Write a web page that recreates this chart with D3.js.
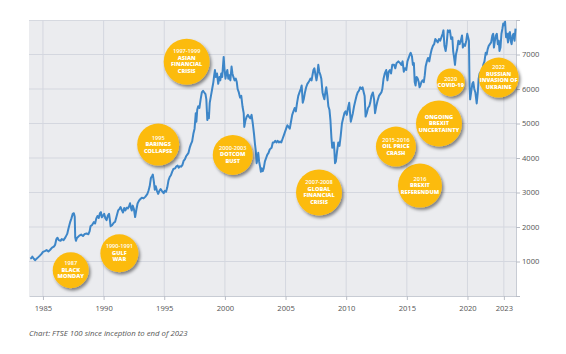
<!DOCTYPE html>
<html>
<head>
<meta charset="utf-8">
<script src="https://cdn.jsdelivr.net/npm/d3@7"></script>
<style>
  body { margin: 0; background: #fff; }
  svg { display: block; font-family: "Open Sans", sans-serif; }
</style>
</head>
<body>
<div id="chart"></div>
<script>
// FTSE 100 closes (decimal year, index level)
const ftseTime = [
  1983.95, 1984.05, 1984.12, 1984.25, 1984.35, 1984.45, 1984.6, 1984.75, 1984.9,
  1985.0, 1985.15, 1985.3, 1985.45, 1985.6, 1985.75, 1985.9,
  1986.0, 1986.1, 1986.2, 1986.3, 1986.45, 1986.55, 1986.7, 1986.85,
  1987.0, 1987.1, 1987.25, 1987.35, 1987.45, 1987.55, 1987.62, 1987.66, 1987.72, 1987.8,
  1988.0, 1988.15, 1988.3, 1988.45, 1988.6, 1988.75, 1988.85,
  1988.92, 1989.05, 1989.2, 1989.3, 1989.4, 1989.5, 1989.6, 1989.7, 1989.78, 1989.85, 1989.95,
  1990.05, 1990.15, 1990.25, 1990.35, 1990.45, 1990.5, 1990.58, 1990.7, 1990.85, 1990.95,
  1991.1, 1991.2, 1991.3, 1991.4, 1991.5, 1991.6, 1991.7, 1991.8, 1991.9,
  1992.0, 1992.1, 1992.18, 1992.25, 1992.32, 1992.4, 1992.5, 1992.6, 1992.7, 1992.8, 1992.9,
  1993.0, 1993.15, 1993.3, 1993.45, 1993.6, 1993.7, 1993.8, 1993.9,
  1994.0, 1994.06, 1994.15, 1994.22, 1994.3, 1994.4, 1994.5, 1994.6, 1994.7, 1994.8, 1994.95,
  1995.05, 1995.15, 1995.25, 1995.35, 1995.45, 1995.55, 1995.65, 1995.75, 1995.9,
  1996.0, 1996.1, 1996.2, 1996.3, 1996.4, 1996.5, 1996.6, 1996.7, 1996.8, 1996.9,
  1997.0, 1997.1, 1997.2, 1997.3, 1997.4, 1997.5, 1997.6, 1997.65, 1997.72, 1997.8, 1997.9,
  1998.0, 1998.1, 1998.2, 1998.3, 1998.4, 1998.47, 1998.55, 1998.6, 1998.68, 1998.75, 1998.85, 1998.95,
  1999.05, 1999.12, 1999.18, 1999.25, 1999.35, 1999.45, 1999.55, 1999.62, 1999.7, 1999.78, 1999.85, 1999.9,
  1999.96, 2000.05, 2000.12, 2000.2, 2000.28, 2000.35, 2000.45, 2000.55, 2000.62, 2000.7, 2000.8, 2000.9, 2000.98,
  2001.05, 2001.15, 2001.25, 2001.35, 2001.45, 2001.55, 2001.6, 2001.7, 2001.8, 2001.9, 2001.98,
  2002.1, 2002.2, 2002.3, 2002.4, 2002.48, 2002.55, 2002.62, 2002.7, 2002.75, 2002.82, 2002.9, 2002.97,
  2003.05, 2003.12, 2003.2, 2003.3, 2003.4, 2003.5, 2003.6, 2003.7, 2003.85, 2003.95,
  2004.05, 2004.15, 2004.25, 2004.35, 2004.45, 2004.55, 2004.65, 2004.75, 2004.85, 2004.95,
  2005.05, 2005.15, 2005.25, 2005.35, 2005.45, 2005.55, 2005.65, 2005.75, 2005.85, 2005.95,
  2006.05, 2006.15, 2006.25, 2006.33, 2006.42, 2006.5, 2006.6, 2006.7, 2006.8, 2006.9, 2006.98,
  2007.05, 2007.15, 2007.22, 2007.3, 2007.38, 2007.45, 2007.55, 2007.62, 2007.7, 2007.78, 2007.88, 2007.95,
  2008.05, 2008.12, 2008.2, 2008.28, 2008.36, 2008.45, 2008.53, 2008.62, 2008.7, 2008.78, 2008.85, 2008.92, 2008.98,
  2009.03, 2009.08, 2009.15, 2009.25, 2009.35, 2009.45, 2009.55, 2009.65, 2009.75, 2009.85, 2009.95,
  2010.05, 2010.15, 2010.25, 2010.32, 2010.38, 2010.45, 2010.55, 2010.65, 2010.75, 2010.85, 2010.95,
  2011.05, 2011.15, 2011.25, 2011.35, 2011.45, 2011.52, 2011.6, 2011.7, 2011.8, 2011.9, 2011.98,
  2012.08, 2012.2, 2012.3, 2012.38, 2012.48, 2012.58, 2012.7, 2012.8, 2012.9, 2012.98,
  2013.08, 2013.18, 2013.3, 2013.4, 2013.5, 2013.6, 2013.7, 2013.8, 2013.95,
  2014.05, 2014.15, 2014.3, 2014.45, 2014.55, 2014.65, 2014.75, 2014.85, 2014.95,
  2015.05, 2015.15, 2015.25, 2015.32, 2015.42, 2015.5, 2015.58, 2015.65, 2015.72, 2015.8, 2015.9, 2015.98,
  2016.05, 2016.12, 2016.2, 2016.3, 2016.4, 2016.48, 2016.55, 2016.65, 2016.75, 2016.85, 2016.95,
  2017.05, 2017.15, 2017.25, 2017.35, 2017.45, 2017.55, 2017.65, 2017.75, 2017.85, 2017.95,
  2018.02, 2018.1, 2018.2, 2018.28, 2018.38, 2018.45, 2018.55, 2018.65, 2018.75, 2018.82, 2018.9, 2018.97,
  2019.05, 2019.15, 2019.25, 2019.35, 2019.45, 2019.55, 2019.62, 2019.7, 2019.8, 2019.9, 2019.98,
  2020.05, 2020.12, 2020.17, 2020.22, 2020.3, 2020.4, 2020.48, 2020.56, 2020.65, 2020.76, 2020.85, 2020.92,
  2021.0, 2021.1, 2021.2, 2021.3, 2021.4, 2021.5, 2021.58, 2021.66, 2021.75, 2021.85, 2021.95,
  2022.05, 2022.12, 2022.18, 2022.26, 2022.34, 2022.42, 2022.5, 2022.58, 2022.64, 2022.72, 2022.8, 2022.88, 2022.95,
  2023.02, 2023.1, 2023.18, 2023.26, 2023.34, 2023.42, 2023.5, 2023.56, 2023.64, 2023.72, 2023.8, 2023.88, 2023.96
];
const ftseClose = [
  1080, 1100, 1140, 1080, 1040, 1070, 1120, 1170, 1230,
  1280, 1300, 1330, 1290, 1340, 1400, 1430,
  1480, 1640, 1690, 1620, 1600, 1650, 1620, 1700,
  1800, 1950, 2150, 2250, 2380, 2400, 2300, 1700, 1600, 1680,
  1750, 1780, 1740, 1800, 1810, 1790, 1880,
  2020, 2060, 2140, 2100, 2250, 2320, 2260, 2400, 2430, 2280, 2330,
  2380, 2250, 2200, 2330, 2380, 2260, 2020, 2050, 2130, 2150,
  2350, 2480, 2520, 2580, 2490, 2420, 2550, 2480, 2560,
  2540, 2600, 2690, 2560, 2480, 2620, 2520, 2290, 2500, 2680, 2750,
  2800, 2850, 2830, 2880, 2950, 3050, 3180, 3420,
  3480, 3520, 3300, 3080, 3180, 3050, 2960, 3050, 3100, 3050, 2980,
  3050, 3020, 3150, 3350, 3450, 3500, 3600, 3680, 3700,
  3760, 3780, 3720, 3760, 3750, 3800, 3920, 3960, 4050, 4100,
  4150, 4300, 4400, 4480, 4700, 4850, 5300, 5050, 5400, 5500, 5450,
  5700, 5900, 5950, 5900, 5850, 5700, 5100, 5300, 5150, 5600, 5800, 6000,
  6200, 6400, 6550, 6350, 6450, 6150, 6350, 6250, 6450, 6350, 6700, 6930,
  6600, 6300, 6450, 6550, 6300, 6400, 6250, 6650, 6450, 6350, 6250, 6300, 6200,
  6000, 5900, 5750, 5800, 5500, 5300, 4900, 5100, 5200, 5250, 5200,
  5150, 5250, 5000, 4700, 4400, 4200, 3850, 4000, 4150, 3900, 3750, 3600,
  3700, 3620, 3700, 3900, 4000, 4100, 4150, 4250, 4300, 4450,
  4450, 4500, 4450, 4500, 4450, 4480, 4450, 4550, 4650, 4750,
  4850, 4950, 4900, 4850, 5050, 5250, 5350, 5450, 5350, 5600,
  5800, 5900, 6000, 6100, 5600, 5700, 5900, 6050, 6150, 6200, 6250,
  6300, 6250, 6400, 6550, 6600, 6450, 6250, 6400, 6700, 6500, 6400, 6300,
  5900, 5800, 5700, 5900, 6050, 5800, 5500, 5400, 5100, 4600, 4300, 4400, 4450,
  4200, 3850, 3900, 4200, 4450, 4350, 4650, 5000, 5150, 5300, 5350,
  5250, 5450, 5600, 5300, 5050, 5150, 5300, 5500, 5650, 5800, 5900,
  5950, 6050, 6000, 6050, 5900, 5800, 5200, 5300, 5450, 5500, 5600,
  5800, 5900, 5700, 5300, 5500, 5650, 5800, 5850, 5900, 6000,
  6300, 6450, 6550, 6250, 6500, 6550, 6450, 6700, 6700,
  6600, 6750, 6800, 6750, 6700, 6800, 6500, 6600, 6550,
  6800, 6900, 7000, 7050, 6950, 6700, 6750, 6200, 6100, 6350, 6300, 6200,
  6050, 6100, 6200, 6250, 6200, 6400, 6650, 6800, 6900, 6800, 7000,
  7150, 7250, 7300, 7450, 7400, 7350, 7450, 7400, 7500, 7600,
  7700, 7250, 7100, 7300, 7700, 7650, 7700, 7450, 7500, 7100, 6900, 6700,
  7000, 7150, 7400, 7300, 7400, 7550, 7200, 7300, 7250, 7400, 7600,
  7500, 7400, 6100, 5700, 5900, 6150, 6200, 6000, 5900, 5580, 5900, 6300,
  6450, 6500, 6400, 6700, 6800, 7050, 7000, 7150, 7250, 7300, 7350,
  7550, 7600, 7200, 7400, 7550, 7600, 7300, 7400, 7100, 7200, 7600, 7750, 7900,
  7850, 7950, 7500, 7600, 7350, 7600, 7650, 7400, 7300, 7550, 7600, 7400, 7750
];

const yearTicks = [1985, 1990, 1995, 2000, 2005, 2010, 2015, 2020, 2023];
const levelTicks = [0, 1000, 2000, 3000, 4000, 5000, 6000, 7000, 8000];

// event bubbles: text lines, and where they sit (year, index level)
const eventText = [
  ['1987', 'BLACK', 'MONDAY'],
  ['1990-1991', 'GULF', 'WAR'],
  ['1995', 'BARINGS', 'COLLAPSE'],
  ['1997-1999', 'ASIAN', 'FINANCIAL', 'CRISIS'],
  ['2000-2003', 'DOTCOM', 'BUST'],
  ['2007-2008', 'GLOBAL', 'FINANCIAL', 'CRISIS'],
  ['2016', 'BREXIT', 'REFERENDUM'],
  ['2015-2016', 'OIL PRICE', 'CRASH'],
  ['ONGOING', 'BREXIT', 'UNCERTAINTY'],
  ['2020', 'COVID-19'],
  ['2022', 'RUSSIAN', 'INVASION OF', 'UKRAINE']
];
const eventYear = [1987.29, 1991.3, 1994.5, 1996.85, 2000.65, 2007.76, 2016.08, 2014.1, 2017.65, 2018.62, 2022.57];
const eventLevel = [750, 1240, 4390, 6790, 4090, 3000, 3200, 4330, 5000, 6190, 6330];

const caption = 'Chart: FTSE 100 since inception to end of 2023';

let width = 566,
    height = 354,
    margin = {left: 29, top: 20, right: 50, bottom: 58},
    plotW = width - margin.left - margin.right,
    plotH = height - margin.top - margin.bottom;

let svg = d3.select('#chart').append('svg')
    .attr('width', width)
    .attr('height', height);

let defs = svg.append('defs');
let shadow = defs.append('filter')
    .attr('id', 'bubbleShadow')
    .attr('x', '-40%').attr('y', '-40%')
    .attr('width', '190%').attr('height', '190%');
shadow.append('feDropShadow')
    .attr('dx', 1.8).attr('dy', 2.4)
    .attr('stdDeviation', 1.6)
    .attr('flood-color', '#000')
    .attr('flood-opacity', 0.45);

let g = svg.append('g')
    .attr('transform', `translate(${margin.left}, ${margin.top})`);

let xScale = d3.scaleLinear()
    .domain([1983.85, 2024.0])
    .range([0, plotW]);

let yScale = d3.scaleLinear()
    .domain([0, 8000])
    .range([plotH, 0]);

// plot background
g.append('rect')
    .attr('width', plotW)
    .attr('height', plotH)
    .attr('fill', '#ebecef');

g.append('line')
    .attr('x1', 0).attr('x2', plotW)
    .attr('y1', 0.5).attr('y2', 0.5)
    .attr('stroke', '#d6d9e0');

// grid
g.append('g')
    .selectAll('line.vgrid')
    .data(yearTicks)
    .join('line')
    .attr('x1', d => xScale(d)).attr('x2', d => xScale(d))
    .attr('y1', 0).attr('y2', plotH)
    .attr('stroke', '#d4d7df')
    .attr('stroke-width', 1);

g.append('g')
    .selectAll('line.hgrid')
    .data(levelTicks.slice(1, -1))
    .join('line')
    .attr('x1', 0).attr('x2', plotW)
    .attr('y1', d => yScale(d)).attr('y2', d => yScale(d))
    .attr('stroke', '#d4d7df')
    .attr('stroke-width', 1);

// axes
let xAxis = g.append('g')
    .attr('class', 'x-axis')
    .attr('transform', `translate(0, ${plotH})`)
    .call(d3.axisBottom(xScale)
        .tickValues(yearTicks)
        .tickFormat(d3.format('d'))
        .tickSize(4)
        .tickPadding(6)
        .tickSizeOuter(0));

let yAxis = g.append('g')
    .attr('class', 'y-axis')
    .attr('transform', `translate(${plotW}, 0)`)
    .call(d3.axisRight(yScale)
        .tickValues(levelTicks)
        .tickFormat(d => (d === 0 || d === 8000) ? '' : d)
        .tickSize(4)
        .tickPadding(2)
        .tickSizeOuter(0));

svg.selectAll('.x-axis .domain, .y-axis .domain')
    .attr('stroke', '#c8ccd4');
svg.selectAll('.x-axis .tick line, .y-axis .tick line')
    .attr('stroke', '#b9bdc6');
svg.selectAll('.x-axis text, .y-axis text')
    .attr('fill', '#555')
    .style('font-size', '7.6px')
    .style('font-family', '"Open Sans", sans-serif');

// FTSE line
let series = ftseTime.map((t, i) => [t, ftseClose[i]]);

let line = d3.line()
    .x(d => xScale(d[0]))
    .y(d => yScale(d[1]));

g.append('path')
    .datum(series)
    .attr('fill', 'none')
    .attr('stroke', '#3d86c8')
    .attr('stroke-width', 2)
    .attr('stroke-linejoin', 'round')
    .attr('d', line);

// event bubbles
const bubbleR = [18, 19, 21, 23, 20, 23, 22, 20, 23, 14, 20];
const lineGap = 6.5;

let bubbles = g.append('g')
    .selectAll('g.bubble')
    .data(eventText)
    .join('g')
    .attr('class', 'bubble')
    .attr('transform', (d, i) => `translate(${xScale(eventYear[i])}, ${yScale(eventLevel[i])})`);

bubbles.append('circle')
    .attr('r', (d, i) => bubbleR[i])
    .attr('fill', '#fcbb11')
    .attr('filter', 'url(#bubbleShadow)');

bubbles.each(function (lines) {
    let t = d3.select(this).append('text')
        .attr('text-anchor', 'middle')
        .attr('fill', '#fff')
        .style('font-size', '5.6px');
    let y0 = -(lines.length - 1) * lineGap / 2 + 1.5;
    lines.forEach((s, k) => {
        t.append('tspan')
            .attr('x', 0)
            .attr('y', y0 + k * lineGap)
            .attr('font-weight', (k === 0 && /^\d/.test(s)) ? 600 : 800)
            .text(s);
    });
});

// caption
svg.append('text')
    .attr('x', margin.left)
    .attr('y', 336)
    .attr('fill', '#555')
    .style('font-size', '7.8px')
    .style('font-style', 'italic')
    .text(caption);
</script>
</body>
</html>
